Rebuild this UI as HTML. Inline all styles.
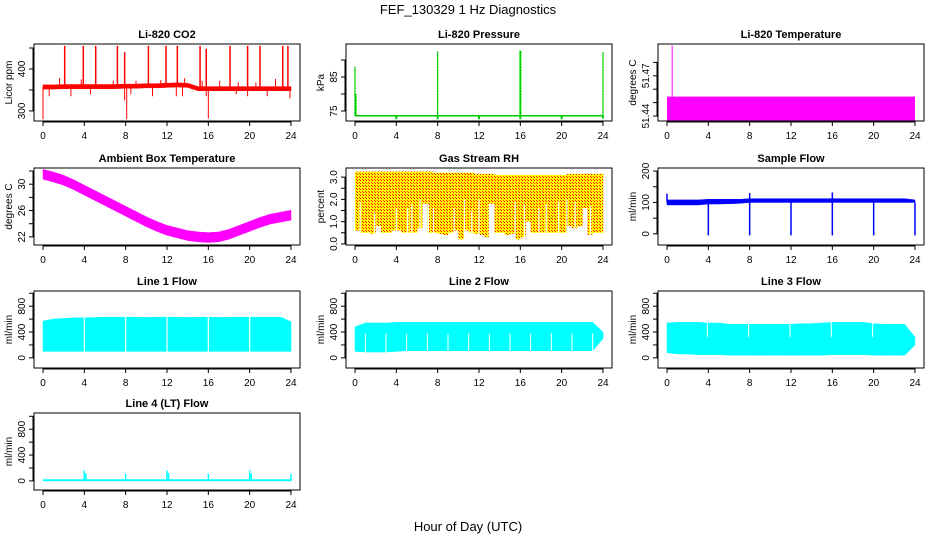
<!DOCTYPE html>
<html><head><meta charset="utf-8">
<style>
html,body{margin:0;padding:0;background:#fff;}
svg{display:block;font-family:"Liberation Sans",Arial,sans-serif;}
</style></head>
<body>
<svg id="chart" width="936" height="540" viewBox="0 0 936 540">
<defs>
<pattern id="rhpat" width="3" height="3" patternUnits="userSpaceOnUse">
<rect width="3" height="3" fill="#ffff00"/>
<rect x="0" y="0" width="1" height="1" fill="#ff0000"/>
<rect x="2" y="2" width="1" height="1" fill="#ff2000"/>
</pattern>
</defs>
<text x="468" y="14" text-anchor="middle" font-size="13">FEF_130329  1 Hz Diagnostics</text>
<text x="468" y="531" text-anchor="middle" font-size="13">Hour of Day (UTC)</text>
</svg>
<script>
// ---- data ----
const hours = [0,1,2,3,4,5,6,7,8,9,10,11,12,13,14,15,16,17,18,19,20,21,22,23,24];
const xTicks = [0,4,8,12,16,20,24];

const co2Base = [357,357,358,358,358,358,358,358,359,359,360,360,361,362,361,353,353,353,353,353,353,353,353,353,353];
const co2SpikeHours = [2.1,3.9,5.1,7.2,7.9,10.2,11.9,13.0,15.2,15.8,18.1,19.8,21.0,23.2,23.7];
const co2SpikeVals = [455,455,455,455,440,455,455,455,455,448,455,455,455,455,455];
const co2DipHours = [0,0.6,2.7,4.6,7.9,8.1,8.5,10.6,12.9,13.5,15.8,16.0,18.7,19.8,21.7,23.9];
const co2DipVals = [280,335,335,340,325,280,340,335,335,335,335,282,340,335,335,330];
const co2BumpHours = [1.6,3.7,6.8,9.0,11.4,13.7,15.4,17.1,18.9,20.6,22.5];
const co2BumpVals = [378,375,372,372,374,378,372,372,368,368,376];

const presBase = 73.6;
const presSpikeHours = [0,0.1,8,16,24];
const presSpikeVals = [88,80,92.5,92.8,92.3];
const presDipHours = [4,8,12,16,20,24];
const presDipVals = [72.6,72.6,72.6,72.6,72.6,72.8];

const tempBandTop = 51.4545;
const tempBandBottom = 51.4365;
const tempSpikeHours = [0.5];
const tempSpikeVals = [51.4925];

const ambCenter = [31.5,31.1,30.6,29.9,29.1,28.3,27.5,26.7,25.9,25.1,24.3,23.6,23.0,22.6,22.2,22.0,21.9,22.0,22.4,23.0,23.6,24.2,24.7,25.0,25.3];
const ambHalf = 0.75;

const rhTop = [3.25,3.25,3.25,3.25,3.25,3.25,3.25,3.25,3.2,3.2,3.2,3.2,3.15,3.15,3.1,3.1,3.1,3.1,3.1,3.1,3.1,3.15,3.15,3.15,3.15];
const rhLowHours = [0,0.5,1,1.5,2,2.5,3,3.5,4,4.5,5,5.5,6,6.5,7,7.5,8,8.5,9,9.5,10,10.5,11,11.5,12,12.5,13,13.5,14,14.5,15,15.5,16,16.5,17,17.5,18,18.5,19,19.5,20,20.5,21,21.5,22,22.5,23,23.5,24];
const rhLowVals = [0.6,0.5,0.5,0.45,0.8,0.5,0.5,0.6,0.6,0.5,0.5,0.5,0.7,1.8,0.5,0.5,0.45,0.4,0.5,0.6,0.2,0.6,0.5,0.45,0.4,0.3,1.8,0.5,0.5,0.4,0.45,0.2,0.3,1.0,0.5,0.5,0.5,0.5,0.5,0.5,0.5,0.8,0.7,0.8,1.6,0.4,0.5,0.5,1.4];
const rhGapHours = [0.5,1.9,4.0,5.1,5.5,6.3,6.6,7.1,7.6,9.6,10.6,11.3,12.0,13.0,15.5,16.4,17.8,18.5,19.7,20.5,21.3,22.8];
const rhGapVals = [1.9,1.4,1.6,1.6,1.8,2.0,1.8,1.8,1.6,1.6,2.0,1.5,2.0,1.8,1.9,1.8,1.6,1.8,1.9,2.0,1.9,1.7];

const sfLo = [92,92,92,92,95,95,96,97,100,100,100,100,100,100,100,100,100,100,100,100,100,100,100,100,100];
const sfHi = [108,108,108,108,110,110,110,110,112,112,112,112,112,112,112,112,112,112,112,112,112,112,112,112,108];
const sfDipHours = [4,8,12,16,20,24];
const sfDipVals = [-5,-5,-5,-5,-5,-5];
const sfSpikeHours = [0,8,16];
const sfSpikeVals = [128,130,132];

const l1Lo = [100,100,100,100,100,100,100,100,100,100,100,100,100,100,100,100,100,100,100,100,100,100,100,100,100];
const l1Hi = [570,600,610,620,620,625,630,630,630,630,625,630,630,630,625,630,630,625,630,630,630,630,630,630,560];
const l2Lo = [100,90,90,90,100,110,110,110,110,110,110,110,110,110,110,110,110,110,110,110,110,110,110,110,300];
const l2Hi = [480,540,540,540,550,550,550,550,550,550,550,550,550,550,550,550,550,550,550,550,550,550,550,550,400];
const l3Lo = [80,60,60,50,50,50,40,40,40,40,40,40,40,40,40,40,50,50,50,50,40,40,40,40,200];
const l3Hi = [540,550,550,550,540,540,520,520,520,520,520,520,520,530,530,540,550,550,550,550,530,520,520,520,320];
const flowGapHours = [4,8,12,16,20];
const l2GapHours = [1.0,3.0,5.0,7.0,9.0,11.0,13.0,15.0,17.0,19.0,21.0,23.0];
const l3GapHours = [3.9,7.9,11.9,15.9,19.9];
const l4Base = 20;
const l4SpikeHours = [4,4.15,8,12,12.15,16,20,20.15,24];
const l4SpikeVals = [160,110,110,160,120,110,160,110,110];

// ---- layout ----
const NS = 'http://www.w3.org/2000/svg';
const svg = document.getElementById('chart');
const X0 = [34,346,658], Y0 = [44,168,291,413], W = 266, H = 77;
function mk(tag, attrs, parent){ const e=document.createElementNS(NS,tag); for(const k in attrs) e.setAttribute(k,attrs[k]); (parent||svg).appendChild(e); return e; }

function panel(col,row,ymin,ymax,title,ylab,yTicks,yLabels,key){
  const g = mk('g',{});
  
  
  const left=X0[col], top=Y0[row], bottom=top+H;
  const x = h => left+9+h*(248/24);
  const y = v => bottom-(v-ymin)/(ymax-ymin)*H;
  const plot = mk('g',{},g);
  
  
  const fr = mk('rect',{x:left,y:top,width:W,height:H,fill:'none',stroke:'#000','stroke-width':1},g);
  
  
  const t = mk('text',{x:left+W/2,y:top-6,'text-anchor':'middle','font-size':11,'font-weight':'bold'},g);
  t.textContent = title;
  
  
  const xa = mk('g',{},g);
  
  
  mk('line',{x1:x(0),x2:x(24),y1:bottom+1,y2:bottom+1,stroke:'#000'},xa);
  xTicks.forEach(h=>{
    mk('line',{x1:x(h),x2:x(h),y1:bottom,y2:bottom+5,stroke:'#000'},xa);
    const tl = mk('text',{x:x(h),y:bottom+18,'text-anchor':'middle','font-size':10},xa);
    tl.textContent = h;
    
    
  });
  const ya = mk('g',{},g);
  
  
  mk('line',{x1:left-1,x2:left-1,y1:y(yTicks[0]),y2:y(yTicks[yTicks.length-1]),stroke:'#000'},ya);
  yTicks.forEach(v=>{ mk('line',{x1:left-5,x2:left,y1:y(v),y2:y(v),stroke:'#000'},ya); });
  yLabels.forEach(v=>{
    const yy=y(+v), xx=left-9;
    const tl = mk('text',{x:xx,y:yy,'text-anchor':'middle','font-size':10,transform:`rotate(-90 ${xx} ${yy})`},ya);
    tl.textContent = v;
    
    
  });
  const yl = mk('text',{x:left-22,y:top+H/2,'text-anchor':'middle','font-size':10,transform:`rotate(-90 ${left-22} ${top+H/2})`},g);
  yl.textContent = ylab;
  
  
  return {x,y,plot};
}
function vline(p,h,v1,v2,color,w){ return mk('line',{x1:p.x(h),x2:p.x(h),y1:p.y(v1),y2:p.y(v2),stroke:color,'stroke-width':w||1},p.plot); }
function band(p,lo,hi,color,fill){
  let d='M'+hours.map((h,i)=>p.x(h)+','+p.y(hi[i])).join('L');
  d+='L'+hours.slice().reverse().map((h,j)=>{const i=hours.length-1-j; return p.x(h)+','+p.y(lo[i]);}).join('L')+'Z';
  return mk('path',{d,fill:fill||color,stroke:color,'stroke-width':0.5},p.plot);
}

// CO2
let p = panel(0,0,276,459.5,'Li-820 CO2','Licor ppm',[300,350,400,450],['300','400'],'co2');
band(p,co2Base.map(v=>v-5),co2Base.map(v=>v+5),'#ff0000');
co2SpikeHours.forEach((h,i)=>{ vline(p,h,co2Base[Math.round(h)],co2SpikeVals[i],'#ff0000',1.5); });
co2DipHours.forEach((h,i)=>{ vline(p,h,co2Base[Math.round(h)],co2DipVals[i],'#ff0000',1); });
co2BumpHours.forEach((h,i)=>{ vline(p,h,co2Base[Math.round(h)],co2BumpVals[i],'#ff0000',1); });

// Pressure
p = panel(1,0,72.06,94.7,'Li-820 Pressure','kPa',[75,80,85,90],['75','85'],'pressure');
mk('line',{x1:p.x(0),x2:p.x(24),y1:p.y(presBase),y2:p.y(presBase),stroke:'#00cc00','stroke-width':1.5},p.plot);
presSpikeHours.forEach((h,i)=>{ vline(p,h,presBase,presSpikeVals[i],'#00ee00',h===16?2:1.2); vline(p,h,presBase,presSpikeVals[i],'#000',0.4).setAttribute('stroke-dasharray','1,2'); });
presDipHours.forEach((h,i)=>{ vline(p,h,presBase,presDipVals[i],'#00cc00',2); });

// Temperature
p = panel(2,0,51.4363,51.4937,'Li-820 Temperature','degrees C',[51.44,51.45,51.46,51.47,51.48],['51.44','51.47'],'temperature');
mk('rect',{x:p.x(0),y:p.y(tempBandTop),width:p.x(24)-p.x(0),height:p.y(tempBandBottom)-p.y(tempBandTop),fill:'#ff00ff'},p.plot);
tempSpikeHours.forEach((h,i)=>vline(p,h,tempBandTop,tempSpikeVals[i],'#ff00ff',1));

// Ambient
p = panel(0,1,20.77,32.46,'Ambient Box Temperature','degrees C',[22,24,26,28,30,32],['22','26','30'],'ambient');
band(p,ambCenter.map(v=>v-ambHalf),ambCenter.map(v=>v+ambHalf),'#ff00ff');

// RH
p = panel(1,1,-0.05,3.41,'Gas Stream RH','percent',[0,0.5,1,1.5,2,2.5,3],['0.0','1.0','2.0','3.0'],'rh');
rhLowHours.forEach((h,i)=>{
  if(i===rhLowHours.length-1) return;
  const h2=rhLowHours[i+1];
  const top=rhTop[Math.round(h)];
  mk('rect',{x:p.x(h),y:p.y(top),width:p.x(h2)-p.x(h)+0.3,height:p.y(rhLowVals[i])-p.y(top),fill:'url(#rhpat)'},p.plot);
});
rhGapHours.forEach((h,i)=>{ vline(p,h,0,rhGapVals[i],'#ffffff',1.2); });

// Sample flow
p = panel(2,1,-35.5,209.7,'Sample Flow','ml/min',[0,50,100,150,200],['0','100','200'],'sample-flow');
band(p,sfLo,sfHi,'#0000ff');
sfDipHours.forEach((h,i)=>vline(p,h,100,sfDipVals[i],'#0000ff',1.5));
sfSpikeHours.forEach((h,i)=>vline(p,h,100,sfSpikeVals[i],'#0000ff',1.5));

// Line flows
const fT=[0,200,400,600,800,1000], fL=['0','400','800'];
p = panel(0,2,-157,1035,'Line 1 Flow','ml/min',fT,fL,'line1-flow');
band(p,l1Lo,l1Hi,'#00ffff');
flowGapHours.forEach(h=>vline(p,h,l1Lo[h]-5,l1Hi[h]+20,'#ffffff',1.2));
p = panel(1,2,-157,1035,'Line 2 Flow','ml/min',fT,fL,'line2-flow');
band(p,l2Lo,l2Hi,'#00ffff');
l2GapHours.forEach(h=>vline(p,h,l2Lo[Math.round(h)]-5,380,'#ffffff',1));
p = panel(2,2,-157,1035,'Line 3 Flow','ml/min',fT,fL,'line3-flow');
band(p,l3Lo,l3Hi,'#00ffff');
l3GapHours.forEach(h=>vline(p,h,320,l3Hi[Math.round(h)]+20,'#ffffff',1));
p = panel(0,3,-141,1051,'Line 4 (LT) Flow','ml/min',fT,fL,'line4-flow');
mk('rect',{x:p.x(0),y:p.y(l4Base+5),width:p.x(24)-p.x(0),height:p.y(-5)-p.y(l4Base+5),fill:'#00ffff'},p.plot);
l4SpikeHours.forEach((h,i)=>vline(p,h,0,l4SpikeVals[i],'#00ffff',1.5));
</script>
</body></html>
